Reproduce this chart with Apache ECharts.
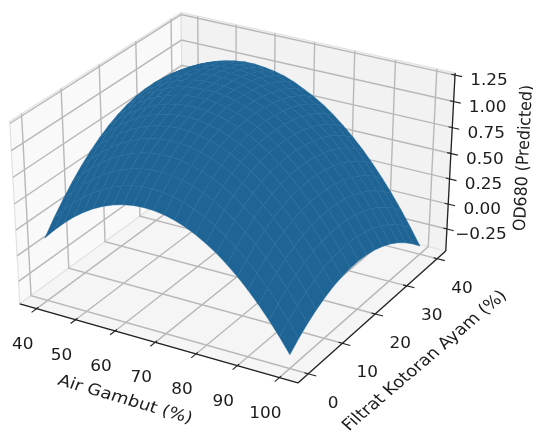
<!DOCTYPE html>
<html><head><meta charset="utf-8"><style>html,body{margin:0;padding:0;background:#fff}#c{width:533px;height:433px;filter:blur(0.35px)}</style>
<script src="https://cdn.jsdelivr.net/npm/echarts@6/dist/echarts.min.js"></script></head><body><div id="c"></div>
<script>
const xTicks=[40,50,60,70,80,90,100];
const yTicks=[0,10,20,30,40];
const zTicks=[-0.25,0,0.25,0.5,0.75,1,1.25];
const xLabel='Air Gambut (%)', yLabel='Filtrat Kotoran Ayam (%)', zLabel='OD680 (Predicted)';
const xGrid=[40,42.5,45,47.5,50,52.5,55,57.5,60,62.5,65,67.5,70,72.5,75,77.5,80,82.5,85,87.5,90,92.5,95,97.5,100];
const yGrid=[0,2.5,5,7.5,10,12.5,15,17.5,20,22.5,25,27.5,30,32.5,35,37.5,40];
// predicted OD680 in thousandths: one row per xGrid value, one column per yGrid value
const zThousandths=[
[140,268,383,487,579,660,728,785,831,866,889,901,903,893,871,838,794],
[242,368,481,583,672,749,815,869,911,943,964,974,973,961,938,903,856],
[334,457,568,667,753,828,890,941,981,1010,1028,1035,1032,1019,993,957,908],
[415,536,645,741,824,896,955,1003,1040,1066,1081,1086,1081,1066,1039,1000,950],
[485,605,711,804,885,953,1009,1054,1088,1111,1124,1127,1120,1102,1073,1033,981],
[545,662,766,857,935,1000,1054,1095,1126,1147,1157,1158,1149,1129,1098,1056,1002],
[594,709,811,899,975,1037,1087,1126,1154,1172,1180,1178,1167,1146,1113,1069,1013],
[632,746,845,931,1003,1063,1110,1146,1171,1186,1192,1188,1175,1151,1117,1071,1013],
[660,772,869,952,1022,1078,1123,1156,1178,1190,1193,1187,1172,1147,1110,1062,1003],
[677,787,882,963,1031,1085,1128,1158,1178,1188,1189,1181,1164,1137,1099,1049,987],
[684,792,885,964,1029,1082,1122,1150,1168,1176,1175,1164,1146,1117,1077,1025,962],
[680,786,877,954,1017,1067,1105,1132,1147,1153,1150,1137,1117,1086,1044,990,925],
[665,769,858,933,994,1043,1078,1102,1116,1120,1114,1100,1077,1045,1001,945,878],
[640,742,830,903,963,1010,1044,1067,1079,1082,1074,1059,1034,1000,954,897,828],
[604,704,790,862,921,966,999,1021,1032,1033,1024,1007,981,944,897,837,767],
[557,656,740,811,868,912,944,964,974,973,963,944,916,878,828,767,695],
[500,597,680,749,804,847,878,897,905,903,892,871,841,801,750,687,612],
[433,528,609,676,731,773,803,821,829,826,813,791,759,717,664,599,523],
[354,447,527,594,647,688,717,735,742,738,724,700,667,623,568,501,423],
[265,357,435,500,553,593,621,638,644,639,624,599,564,518,461,392,312],
[165,255,332,396,448,487,515,531,535,529,513,486,450,402,343,273,191],
[55,143,219,282,333,371,398,414,418,411,394,366,328,278,217,145,61],
[-66,21,95,157,207,245,272,287,290,283,264,235,195,144,81,7,-79],
[-197,-113,-40,21,71,108,134,149,152,143,124,93,51,-2,-66,-142,-230],
[-339,-256,-185,-125,-76,-39,-14,0,3,-6,-27,-59,-102,-157,-224,-302,-391]];
const zTable=zThousandths.map(r=>r.map(v=>v/1000));
const xLim=[35.625,104.375],yLim=[-2.917,42.917],zLim=[-0.474,1.27];
const az=-60*Math.PI/180,el=30*Math.PI/180,dist=10,asp=[1.19,1.19,0.893];
const w=[Math.cos(el)*Math.cos(az),Math.cos(el)*Math.sin(az),Math.sin(el)];
const u=[-w[1]/Math.hypot(w[0],w[1]),w[0]/Math.hypot(w[0],w[1]),0];
const v=[w[1]*u[2]-w[2]*u[1],w[2]*u[0]-w[0]*u[2],w[0]*u[1]-w[1]*u[0]];
const dot=(a,b)=>a[0]*b[0]+a[1]*b[1]+a[2]*b[2];
function q(x,y,z){return [((x-xLim[0])/(xLim[1]-xLim[0])-.5)*asp[0],((y-yLim[0])/(yLim[1]-yLim[0])-.5)*asp[1],((z-zLim[0])/(zLim[1]-zLim[0])-.5)*asp[2]];}
function proj(x,y,z){const p=q(x,y,z),d=dist-dot(w,p);return [dot(u,p)/d,dot(v,p)/d];}
const depth=(x,y,z)=>dot(w,q(x,y,z));
const GRID='#b8b8b8',AX='#222',TXT='#1c1c1c',SURF='#1e6495',MESH='#256a9a';
const [x0,x1]=xLim,[y0,y1]=yLim,[z0,z1]=zLim;
const panes=[
 {pts:[[x0,y0,z0],[x0,y1,z0],[x0,y1,z1],[x0,y0,z1]],c:'#f9f9f9'},
 {pts:[[x0,y1,z0],[x1,y1,z0],[x1,y1,z1],[x0,y1,z1]],c:'#f2f2f2'},
 {pts:[[x0,y0,z0],[x1,y0,z0],[x1,y1,z0],[x0,y1,z0]],c:'#f5f5f5'}];
const gridLines=[];
xTicks.forEach(t=>gridLines.push([[t,y0,z0],[t,y1,z0],[t,y1,z1]]));
yTicks.forEach(t=>gridLines.push([[x1,t,z0],[x0,t,z0],[x0,t,z1]]));
zTicks.forEach(t=>gridLines.push([[x0,y0,t],[x0,y1,t],[x1,y1,t]]));
const axisLines=[[[x0,y0,z0],[x1,y0,z0]],[[x1,y0,z0],[x1,y1,z0]],[[x1,y1,z0],[x1,y1,z1]]];
const tickLines=[];
xTicks.forEach(t=>tickLines.push([[t,y0+0.5,z0],[t,y0-1.3,z0]]));
yTicks.forEach(t=>tickLines.push([[x1-0.9,t,z0],[x1+1.9,t,z0]]));
zTicks.forEach(t=>tickLines.push([[x1-0.9,y1,t],[x1+1.7,y1,t]]));
const labels=[];
xTicks.forEach(t=>labels.push({p:[t,y0,z0],dx:-14,dy:36,s:String(t)}));
yTicks.forEach(t=>labels.push({p:[x1,t,z0],dx:25,dy:30,s:String(t)}));
zTicks.forEach(t=>labels.push({p:[x1,y1,t],dx:34,dy:6,s:t.toFixed(2).replace('-','\u2212')}));
const names=[{s:xLabel,px:125,py:400,r:-18.6,k:1.15},{s:yLabel,px:425,py:361,r:44.4,k:1.15},{s:zLabel,px:524,py:158,r:87.4,k:1.07}];
const cells=[];
for(let i=0;i<xGrid.length-1;i++)for(let j=0;j<yGrid.length-1;j++){
 const c=[[i,j],[i+1,j],[i+1,j+1],[i,j+1]].map(([a,b])=>[xGrid[a],yGrid[b],zTable[a][b]]);
 cells.push({c,d:c.reduce((s,p)=>s+depth(p[0],p[1],p[2]),0)/4});}
cells.sort((a,b)=>a.d-b.d);
const sx=2678,sy=2330,bx=236.7,by=188.8;
function poly3(api,pts){return pts.map(p=>api.coord(proj(p[0],p[1],p[2])));}
const fontStyle={fontFamily:'DejaVu Sans',fontSize:15.8,fill:TXT,align:'center',verticalAlign:'middle'};
const chart=echarts.init(document.getElementById('c'),null,{renderer:'canvas'});
const idx=a=>a.map((_,i)=>[0,0,i]);
chart.setOption({animation:false,
 grid:{left:0,right:0,top:0,bottom:0},
 xAxis:{type:'value',show:false,min:-bx/sx,max:(533-bx)/sx},
 yAxis:{type:'value',show:false,min:(by-433)/sy,max:by/sy},
 series:[
 {type:'custom',silent:true,clip:false,z:1,data:idx(panes),renderItem:(p,api)=>{const a=panes[p.dataIndex];
   return {type:'polygon',shape:{points:poly3(api,a.pts)},style:{fill:a.c,stroke:'#e2e2e2',lineWidth:1.2}};}},
 {type:'custom',silent:true,clip:false,z:2,data:idx(gridLines),renderItem:(p,api)=>({type:'polyline',shape:{points:poly3(api,gridLines[p.dataIndex])},style:{fill:null,stroke:GRID,lineWidth:1.4}})},
 {type:'custom',silent:true,clip:false,z:3,data:idx(axisLines),renderItem:(p,api)=>({type:'polyline',shape:{points:poly3(api,axisLines[p.dataIndex])},style:{fill:null,stroke:AX,lineWidth:1.3}})},
 {type:'custom',silent:true,clip:false,z:3,data:idx(tickLines),renderItem:(p,api)=>({type:'polyline',shape:{points:poly3(api,tickLines[p.dataIndex])},style:{fill:null,stroke:AX,lineWidth:1.1}})},
 {type:'custom',silent:true,clip:false,z:4,data:idx(cells),renderItem:(p,api)=>({type:'polygon',shape:{points:poly3(api,cells[p.dataIndex].c)},style:{fill:SURF,stroke:MESH,lineWidth:0.5}})},
 {type:'custom',silent:true,clip:false,z:5,data:idx(labels),renderItem:(p,api)=>{const l=labels[p.dataIndex],c=api.coord(proj(l.p[0],l.p[1],l.p[2]));
   return {type:'group',x:c[0]+l.dx,y:c[1]+l.dy,scaleX:1.07,children:[{type:'text',style:Object.assign({text:l.s},fontStyle)}]};}},
 {type:'custom',silent:true,clip:false,z:5,data:idx(names),renderItem:(p,api)=>{const l=names[p.dataIndex];
   return {type:'group',x:l.px,y:l.py,scaleX:l.k,children:[{type:'text',rotation:l.r*Math.PI/180,style:Object.assign({text:l.s},fontStyle)}]};}}
 ]});
</script></body></html>
